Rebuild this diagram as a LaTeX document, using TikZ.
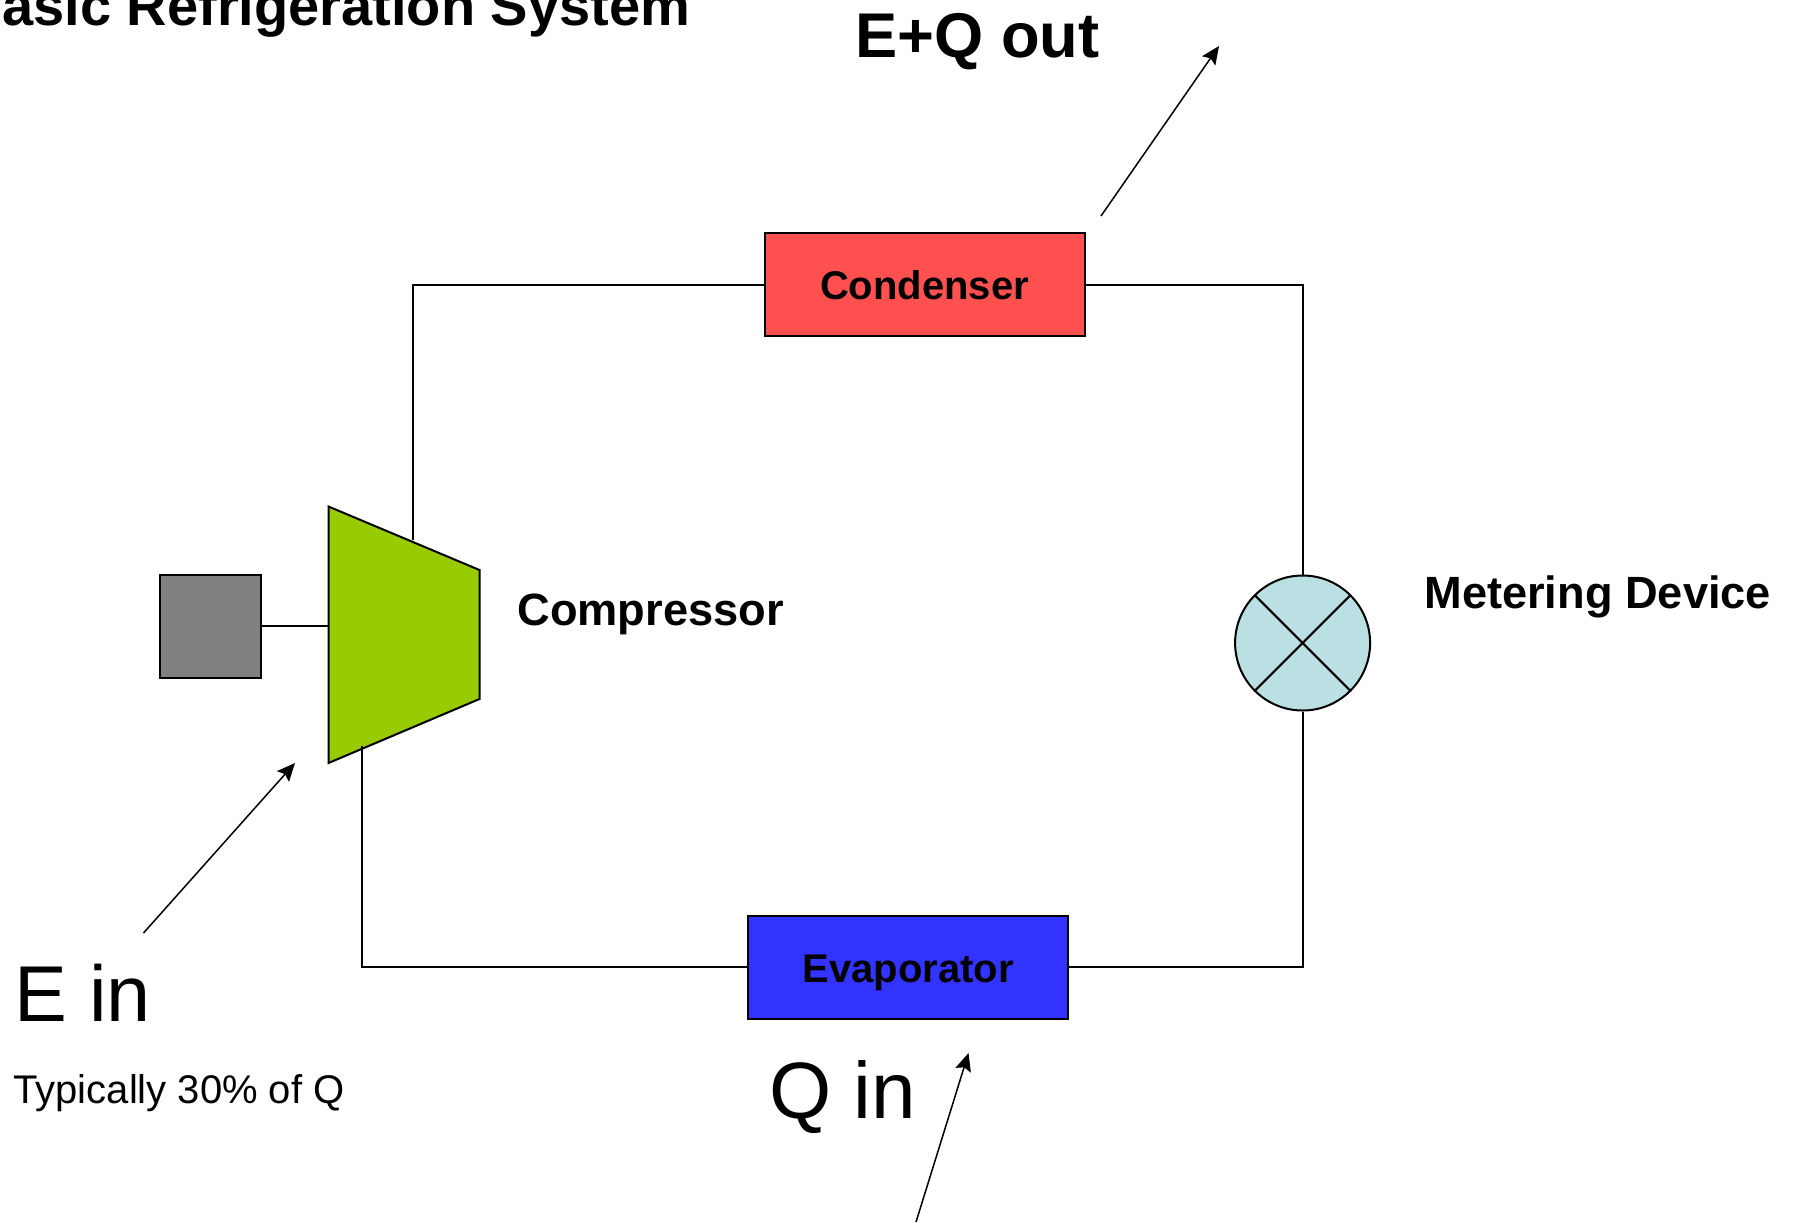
\documentclass[tikz,border=0pt]{standalone}
\usepackage{fontspec}
\setmainfont{Liberation Sans}
\usetikzlibrary{arrows.meta}
\definecolor{condred}{HTML}{FF5050}
\definecolor{evapblue}{HTML}{3333FF}
\definecolor{compgreen}{HTML}{99CC00}
\definecolor{motorgray}{HTML}{808080}
\definecolor{valveblue}{HTML}{BBE0E3}
\tikzset{
  x=0.5pt,y=-0.5pt,
  wire/.style={draw=black,line width=1pt},
  flow/.style={draw=black,line width=0.75pt,-{Stealth[length=9pt,width=8pt,inset=1.5pt]}},
  hx/.style={rectangle,draw=black,line width=1pt,minimum width=160pt,minimum height=51.5pt,inner sep=0pt,text height=15.4pt,text depth=0pt,font=\fontsize{20}{24}\selectfont\bfseries},
  lab/.style={anchor=base west,inner sep=0pt},
}
\begin{document}
\begin{tikzpicture}
\useasboundingbox (0,0) rectangle (1794,1222);
\coordinate (compTL) at (328.5,506.5);
\coordinate (compTR) at (479.5,570);
\coordinate (compBR) at (479.5,699);
\coordinate (compBL) at (328.5,763);
\coordinate (pipeOut) at (412.5,540);
\coordinate (pipeIn) at (361.7,746);
\coordinate (shaftEnd) at (328.5,626);
\coordinate (eqStart) at (1101,216);
\coordinate (eqEnd) at (1219,46);
\coordinate (einStart) at (143.5,933);
\coordinate (einEnd) at (295,763);
\coordinate (qStart) at (916,1222);
\coordinate (qEnd) at (968.5,1053);
% components
\node[hx,fill=condred] (condenser) at (924.5,284.5) {Condenser};
\node[hx,fill=evapblue] (evaporator) at (908,967) {Evaporator};
\node[circle,draw=black,line width=1pt,fill=valveblue,minimum size=67.5pt,inner sep=0pt] (valve) at (1302.6,643) {};
\node[rectangle,draw=black,line width=1pt,fill=motorgray,minimum width=50.5pt,minimum height=51.5pt,inner sep=0pt] (motor) at (210.5,626.5) {};
% pipes
\draw[wire] (pipeOut) |- (condenser.west);
\draw[wire] (condenser.east) -| (valve.north);
\draw[wire] (valve.south) |- (evaporator.east);
\draw[wire] (evaporator.west) -| (pipeIn);
\draw[wire] (motor.east |- shaftEnd) -- (shaftEnd);
% compressor body
\draw[wire,fill=compgreen,line join=miter] (compTL) -- (compTR) -- (compBR) -- (compBL) -- cycle;
\draw[wire] (pipeIn) -- ++(0,8);
% valve cross
\draw[wire] (valve.135) -- (valve.315);
\draw[wire] (valve.45) -- (valve.225);
% heat and energy arrows
\draw[flow] (eqStart) -- (eqEnd);
\draw[flow] (einStart) -- (einEnd);
\draw[flow] (qStart) -- (qEnd);
% labels
\node[lab,font=\fontsize{28}{32}\selectfont\bfseries] (title) at (2,25) {asic Refrigeration System};
\node[lab,font=\fontsize{31.6}{36}\selectfont\bfseries] (eqout) at (855,57) {E+Q out};
\node[lab,font=\fontsize{22.6}{26}\selectfont\bfseries] (complabel) at (517,625) {Compressor};
\node[lab,font=\fontsize{22.6}{26}\selectfont\bfseries] (meterlabel) at (1424,608) {Metering Device};
\node[lab,font=\fontsize{39.6}{44}\selectfont] (ein) at (14,1021) {E in};
\node[lab,font=\fontsize{20}{24}\selectfont] (typ) at (13,1103) {Typically 30\% of Q};
\node[lab,font=\fontsize{40}{44}\selectfont] (qin) at (769,1118) {Q in};
\end{tikzpicture}
\end{document}
